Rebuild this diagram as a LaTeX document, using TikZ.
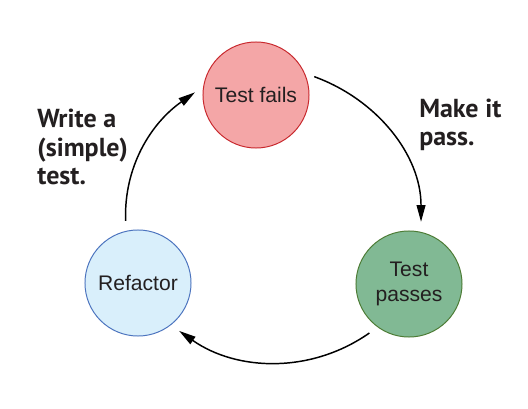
\documentclass[tikz,border=0pt]{standalone}
\usepackage{fontspec}
\setmainfont{Liberation Sans}
\newfontfamily\notefont{PT Sans}
\usepackage{tikz}
\usetikzlibrary{arrows.meta}

\definecolor{ink}{HTML}{231F20}
\definecolor{failfill}{HTML}{F4A6A7}
\definecolor{failline}{HTML}{C8282D}
\definecolor{reffill}{HTML}{D9EFFB}
\definecolor{refline}{HTML}{4B73BE}
\definecolor{passfill}{HTML}{81B994}
\definecolor{passline}{HTML}{4C7B34}

\begin{document}
\begin{tikzpicture}[x=0.025cm,y=0.025cm,
    phase/.style={circle,draw,line width=0.7pt,minimum size=2.65cm,inner sep=0pt,
        align=center,text=ink,font=\fontsize{15}{17.8}\selectfont},
    cyclearrow/.style={line width=1.05pt,-{Triangle[length=0.42cm,width=0.22cm]},
        shorten <=0.25cm,shorten >=0.25cm},
    note/.style={anchor=base west,inner sep=0pt,align=left,text=ink,
        font=\notefont\bfseries\fontsize{18.5}{20.6}\selectfont}]
    \useasboundingbox (0,0) rectangle (528,409);
    % the three phases
    \node[phase,draw=failline,fill=failfill] (fails) at (256,314) {Test fails};
    \node[phase,draw=passline,fill=passfill] (passes) at (409,125) {Test\\passes};
    \node[phase,draw=refline,fill=reffill] (refactor) at (138,126) {Refactor};
    % the cycle
    \draw[cyclearrow] (fails.24) to[out=-20,in=90] (passes.77);
    \draw[cyclearrow] (passes.234) to[out=215,in=-35] (refactor.-52);
    \draw[cyclearrow] (refactor.103) to[out=92,in=215] (fails.171);
    % notes (base = last line)
    \node[note] (write) at (37,224) {Write a\\(simple)\\test.};
    \node[note] (make) at (419,263) {Make it\\pass.};
\end{tikzpicture}
\end{document}
